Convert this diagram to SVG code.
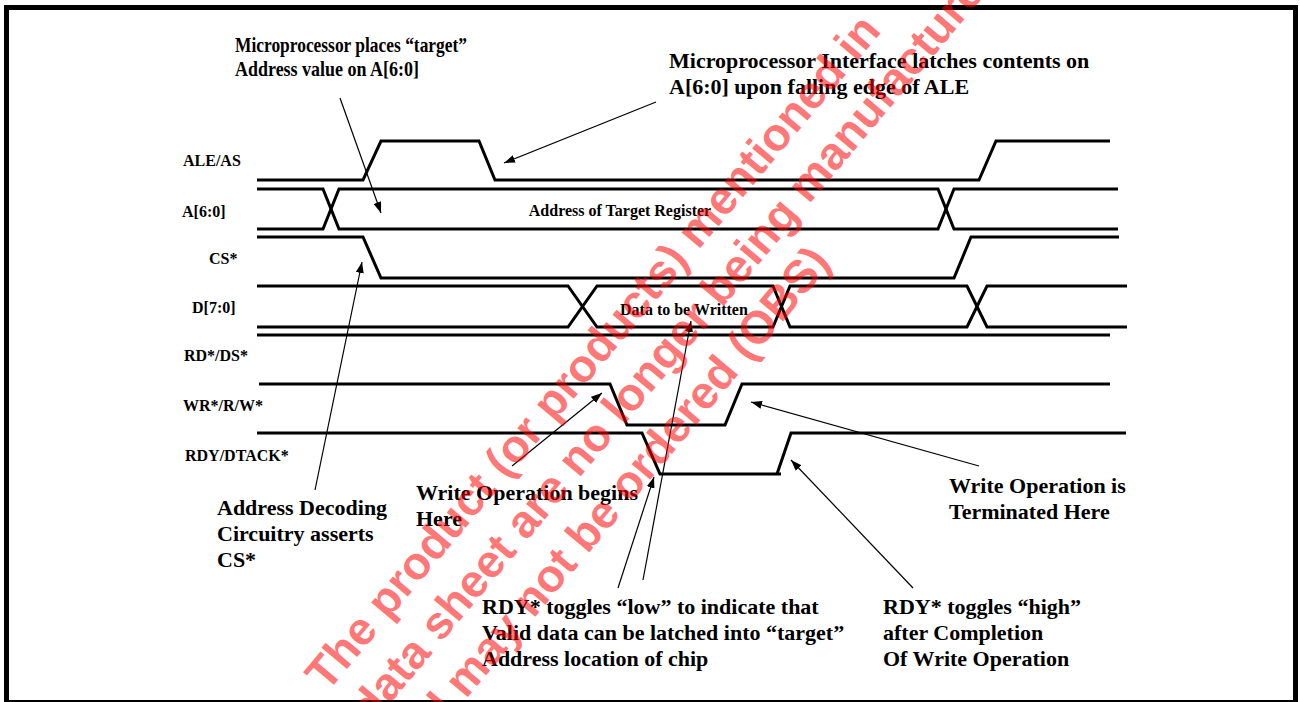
<svg xmlns="http://www.w3.org/2000/svg" width="1300" height="702" viewBox="0 0 1300 702">
<defs>
<style>
.sig{fill:none;stroke:#000;stroke-width:3;stroke-linejoin:miter}
.lbl{font-family:"Liberation Serif","Times New Roman",serif;font-weight:bold;font-size:16px;fill:#000}
.ann{font-family:"Liberation Serif","Times New Roman",serif;font-weight:bold;font-size:22px;fill:#000}
.arr{fill:none;stroke:#000;stroke-width:1.2;marker-end:url(#ah)}
.wm{font-family:"Liberation Sans",Arial,sans-serif;font-weight:bold;font-size:46px;fill:#ff0000;fill-opacity:0.55}
</style>
<marker id="ah" viewBox="0 0 11 8" refX="11" refY="4" markerWidth="11" markerHeight="8" markerUnits="userSpaceOnUse" orient="auto">
<path d="M0,0 L11,4 L0,8 z" fill="#000"/>
</marker>
</defs>
<rect x="0" y="0" width="1300" height="702" fill="#fff"/>
<rect x="6.5" y="7.5" width="1289" height="695" fill="none" stroke="#000" stroke-width="5"/>

<g id="ALE">
<text class="lbl" x="183" y="166">ALE/AS</text>
<polyline class="sig" points="257,180 363,180 381,141 479,141 495,180 979,180 996,141 1110,141"/>
</g>
<g id="A">
<text class="lbl" x="182" y="217">A[6:0]</text>
<polyline class="sig" points="257,189 323,189 339,229 938,229 954,189 1118,189"/>
<polyline class="sig" points="257,229 323,229 339,189 938,189 954,229 1118,229"/>
<text class="lbl" x="620" y="216" text-anchor="middle">Address of Target Register</text>
</g>
<g id="CS">
<text class="lbl" x="209" y="264">CS*</text>
<polyline class="sig" points="257,237 363,237 381,278 954,278 971,237 1119,237"/>
</g>
<g id="D">
<text class="lbl" x="192" y="313">D[7:0]</text>
<polyline class="sig" points="257,286 568,286 597,327 773,327 790,286 967,286 987,327 1127,327"/>
<polyline class="sig" points="257,327 568,327 597,286 773,286 790,327 967,327 987,286 1127,286"/>
<text class="lbl" x="620" y="315">Data to be Written</text>
</g>
<g id="RD">
<text class="lbl" x="184" y="361">RD*/DS*</text>
<polyline class="sig" points="257,335 1110,335"/>
</g>
<g id="WR">
<text class="lbl" x="183" y="411">WR*/R/W*</text>
<polyline class="sig" points="259,384 610,384 627,425 725,425 742,384 1110,384"/>
</g>
<g id="RDY">
<text class="lbl" x="185" y="461">RDY/DTACK*</text>
<polyline class="sig" points="257,433 642,433 660,474 781,474"/>
<polyline class="sig" points="777,474 791,433 1126,433"/>
</g>

<g id="connectors">
<line class="arr" x1="340" y1="98" x2="381" y2="213"/>
<line class="arr" x1="656" y1="102" x2="504" y2="163"/>
<line class="arr" x1="315" y1="490" x2="362" y2="262"/>
<line class="arr" x1="512" y1="466" x2="602" y2="393"/>
<line class="arr" x1="618" y1="588" x2="654" y2="477"/>
<line class="arr" x1="643" y1="580" x2="691" y2="321"/>
<line class="arr" x1="979" y1="466" x2="751" y2="402"/>
<line class="arr" x1="913" y1="588" x2="791" y2="460"/>
</g>

<g id="note-address">
<text class="ann" x="235" y="52" font-size="21" textLength="232" lengthAdjust="spacingAndGlyphs">Microprocessor places “target”</text>
<text class="ann" x="235" y="76" font-size="21" textLength="184" lengthAdjust="spacingAndGlyphs">Address value on A[6:0]</text>
</g>
<g id="note-latch">
<text class="ann" x="669" y="68">Microprocessor Interface latches contents on</text>
<text class="ann" x="669" y="94">A[6:0] upon falling edge of ALE</text>
</g>
<g id="note-decode">
<text class="ann" x="217" y="515">Address Decoding</text>
<text class="ann" x="217" y="541">Circuitry asserts</text>
<text class="ann" x="217" y="567">CS*</text>
</g>
<g id="note-begin">
<text class="ann" x="416" y="500">Write Operation begins</text>
<text class="ann" x="416" y="526">Here</text>
</g>
<g id="note-low">
<text class="ann" x="482" y="614">RDY* toggles “low” to indicate that</text>
<text class="ann" x="482" y="640">Valid data can be latched into “target”</text>
<text class="ann" x="482" y="666">Address location of chip</text>
</g>
<g id="note-term">
<text class="ann" x="949" y="493">Write Operation is</text>
<text class="ann" x="949" y="519">Terminated Here</text>
</g>
<g id="note-high">
<text class="ann" x="883" y="614">RDY* toggles “high”</text>
<text class="ann" x="883" y="640">after Completion</text>
<text class="ann" x="883" y="666">Of Write Operation</text>
</g>

<g id="watermark">
<text class="wm" transform="translate(327,693) rotate(-50)">The product (or products) mentioned in</text>
<text class="wm" transform="translate(311,798) rotate(-50)">this data sheet are no longer being manufactured</text>
<text class="wm" transform="translate(405,772) rotate(-50)">and may not be ordered (OBS)</text>
</g>
</svg>
